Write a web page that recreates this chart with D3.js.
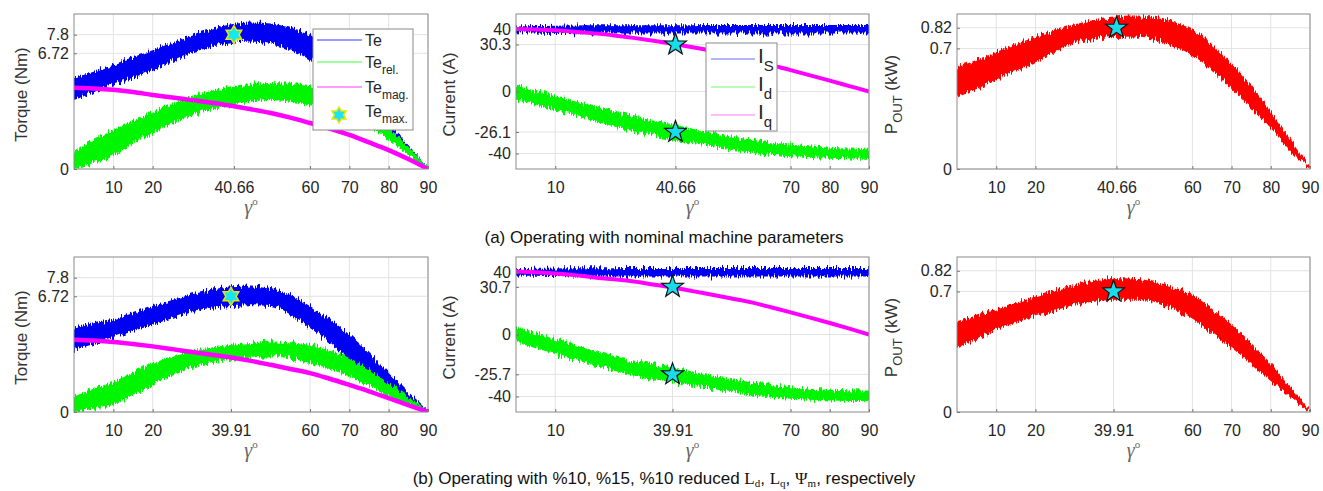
<!DOCTYPE html>
<html><head><meta charset="utf-8">
<script src="https://cdn.jsdelivr.net/npm/d3@7"></script>
<style>body{margin:0;background:#fff} text{font-family:"Liberation Sans",Arial,sans-serif}</style>
</head><body><svg id="c" width="1323" height="491"></svg>
<script>
// ---------------- DATA ----------------
const gamma = [0,5,10,15,20,25,30,35,40,45,50,55,60,65,70,75,80,85,90];

// (a) nominal — torque (Nm)
const teHiA   = [5.3,5.65,6.05,6.5,6.9,7.35,7.8,8.15,8.4,8.5,8.45,8.2,7.8,6.9,5.7,4.3,2.7,1.4,0.1];
const teLoA   = [4.0,4.45,4.9,5.3,5.75,6.25,6.75,7.1,7.3,7.4,7.25,6.9,6.35,5.6,4.5,3.3,2.0,0.9,0.0];
const relHiA  = [1.0,1.7,2.27,2.8,3.33,3.8,4.2,4.55,4.8,4.95,5.0,4.95,4.8,4.5,4.1,3.3,2.4,1.3,0.1];
const relLoA  = [0,0.35,0.8,1.45,2.1,2.65,3.15,3.45,3.7,3.9,4.0,3.9,3.7,3.45,3.1,2.5,1.7,0.8,0];
const magA    = [4.72,4.68,4.6,4.47,4.3,4.15,4.0,3.85,3.67,3.47,3.25,2.98,2.67,2.35,1.98,1.55,1.1,0.58,0];
// (a) currents (A)
const isHiA   = [42.0,42.3,42.5,42.6,42.7,42.7,42.8,42.8,42.8,42.8,42.9,42.9,42.9,42.9,42.9,42.9,42.9,42.9,42.9];
const isLoA   = [38.2,38.0,37.7,37.6,37.5,37.5,37.4,37.4,37.4,37.4,37.4,37.4,37.4,37.4,37.4,37.4,37.4,37.4,37.4];
const idHiA   = [3.9,0.5,-3,-6.3,-9.5,-12.8,-15.9,-18.7,-21.3,-24,-26.6,-29,-31,-32.8,-34.2,-35.3,-36.3,-36.8,-37];
const idLoA   = [-5.2,-8.4,-11.6,-15.5,-19.2,-22.5,-25.6,-28.4,-31,-33.3,-35.3,-37.6,-39.5,-40.8,-41.7,-42.3,-42.8,-43.2,-43.4];
const iqA     = [40.3,40.0,39.5,38.6,37.5,36.2,34.6,32.8,30.8,28.6,26.2,23.4,20.5,17.0,13.8,10.4,7.0,3.5,0];
// (a) output power (kW)
const pHiA    = [0.59,0.635,0.68,0.725,0.766,0.805,0.84,0.865,0.88,0.885,0.88,0.855,0.81,0.72,0.61,0.48,0.336,0.17,0.01];
const pLoA    = [0.42,0.47,0.52,0.57,0.62,0.68,0.73,0.755,0.766,0.77,0.756,0.715,0.66,0.575,0.47,0.355,0.238,0.10,0];

// (b) reduced parameters — torque (Nm)
const teHiB   = [4.9,5.15,5.37,5.75,6.15,6.5,6.83,7.1,7.3,7.35,7.2,6.8,6.15,5.4,4.5,3.45,2.26,1.1,0.08];
const teLoB   = [3.6,3.95,4.3,4.7,5.07,5.45,5.85,6.05,6.15,6.2,6.15,5.6,4.88,4.0,3.03,2.05,1.09,0.4,0];
const relHiB  = [0.9,1.35,1.77,2.3,2.84,3.2,3.52,3.75,3.9,4.0,4.1,4.05,3.9,3.55,3.13,2.45,1.67,0.85,0.05];
const relLoB  = [0,0.2,0.4,1.0,1.57,2.1,2.55,2.85,3.03,3.15,3.23,3.1,2.84,2.5,2.06,1.5,0.9,0.4,0];
const magB    = [4.2,4.15,4.07,3.95,3.81,3.65,3.48,3.33,3.17,2.97,2.74,2.5,2.26,1.93,1.57,1.2,0.8,0.4,0];
// (b) currents (A)
const isHiB   = [42.2,42.4,42.6,42.7,42.8,42.8,42.9,42.9,42.9,42.9,42.9,42.9,42.9,42.9,42.9,42.9,42.9,42.9,42.9];
const isLoB   = [38.1,37.9,37.7,37.5,37.5,37.4,37.4,37.4,37.4,37.4,37.4,37.4,37.4,37.4,37.4,37.4,37.4,37.4,37.4];
const idHiB   = [4.6,0.8,-2.9,-6.7,-10.4,-13.8,-16.8,-19.2,-21.1,-23.8,-26.5,-28.8,-30.7,-32.5,-34,-35,-35.7,-36,-36.1];
const idLoB   = [-5,-8.8,-12.5,-16.3,-20,-23.4,-26.5,-28.8,-30.7,-33,-35,-37.3,-39.4,-40.6,-41.5,-42.1,-42.6,-42.9,-43];
const iqB     = [40.6,40.2,39.4,38.3,36.8,35.6,34.2,32.3,30.3,28,25.6,23.2,20.7,17.6,14.3,10.9,7.4,3.8,0];
// (b) output power (kW)
const pHiB    = [0.527,0.56,0.594,0.633,0.671,0.705,0.739,0.762,0.778,0.775,0.758,0.727,0.681,0.6,0.508,0.395,0.276,0.15,0.01];
const pLoB    = [0.373,0.426,0.479,0.518,0.556,0.59,0.623,0.64,0.652,0.652,0.642,0.598,0.537,0.455,0.373,0.28,0.18,0.09,0];

// maximum points
const maxA = {gamma:40.66, te:7.8, iq:30.3, id:-26.1, p:0.82};
const maxB = {gamma:39.91, te:6.72, iq:30.7, id:-25.7, p:0.7};

// tick labels
const xTicksTorqueA = [10,20,40.66,60,70,80,90];
const xTicksCurA    = [10,40.66,70,80,90];
const xTicksTorqueB = [10,20,39.91,60,70,80,90];
const xTicksCurB    = [10,39.91,70,80,90];
const yTicksTorque  = [0,6.72,7.8];
const yTicksCurA    = [-40,-26.1,0,30.3,40];
const yTicksCurB    = [-40,-25.7,0,30.7,40];
const yTicksPow     = [0,0.7,0.82];

const legendTorque = [{name:"Te",sub:"",color:"#3a3aff"},{name:"Te",sub:"rel.",color:"#3cff3c"},{name:"Te",sub:"mag.",color:"#ff3cff"},{name:"Te",sub:"max.",star:true}];
const legendCur = [{name:"I",sub:"S",color:"#6a6aff"},{name:"I",sub:"d",color:"#6aff6a"},{name:"I",sub:"q",color:"#ff7aff"}];

// ---------------- DRAW ----------------
const svg = d3.select("#c");
const defs = svg.append("defs");
const filt = defs.append("filter").attr("id","noisy").attr("filterUnits","userSpaceOnUse")
  .attr("x",0).attr("y",0).attr("width",1323).attr("height",491);
filt.append("feTurbulence").attr("type","fractalNoise").attr("baseFrequency","0.7 0.04").attr("numOctaves",2).attr("seed",3).attr("result","n0");
filt.append("feColorMatrix").attr("in","n0").attr("type","matrix")
  .attr("values","0 0 0 0 0.5  0 1.6 0 0 -0.3  0 0 0 0 0  0 0 0 0 1").attr("result","n");
filt.append("feDisplacementMap").attr("in","SourceGraphic").attr("in2","n").attr("scale",7)
  .attr("xChannelSelector","R").attr("yChannelSelector","G");

function starPath(cx, cy, R, r, n){
  const pts=[];
  for(let i=0;i<2*n;i++){
    const a=-Math.PI/2+i*Math.PI/n, rr=i%2===0?R:r;
    pts.push([cx+rr*Math.cos(a), cy+rr*Math.sin(a)]);
  }
  return "M"+pts.map(p=>p.join(",")).join("L")+"Z";
}

let clipId=0;
function panel(o){
  const g = svg.append("g");
  const x = d3.scaleLinear().domain([0,90]).range([o.left,o.right]);
  const y = d3.scaleLinear().domain(o.yDomain).range([o.bottom,o.top]);
  g.selectAll(".gx").data(o.xTicks).join("line").attr("x1",d=>x(d)).attr("x2",d=>x(d))
    .attr("y1",o.top).attr("y2",o.bottom).attr("stroke","#e3e3e3").attr("stroke-width",1);
  g.selectAll(".gy").data(o.yTicks).join("line").attr("y1",d=>y(d)).attr("y2",d=>y(d))
    .attr("x1",o.left).attr("x2",o.right).attr("stroke","#e3e3e3").attr("stroke-width",1);
  const id="clip"+(clipId++);
  defs.append("clipPath").attr("id",id).append("rect").attr("x",o.left).attr("y",o.top)
    .attr("width",o.right-o.left).attr("height",o.bottom-o.top);
  const dg = g.append("g").attr("clip-path",`url(#${id})`);
  o.bands.forEach(b=>{
    const area = d3.area().x((d,i)=>x(gamma[i])).y0((d,i)=>y(b.lo[i])).y1((d,i)=>y(b.hi[i])).curve(d3.curveMonotoneX);
    dg.append("g").attr("filter","url(#noisy)").append("path").attr("d",area(gamma)).attr("fill",b.color);
  });
  (o.lines||[]).forEach(l=>{
    const line = d3.line().x((d,i)=>x(gamma[i])).y((d,i)=>y(l.v[i])).curve(d3.curveMonotoneX);
    dg.append("path").attr("d",line(gamma)).attr("fill","none").attr("stroke",l.color).attr("stroke-width",l.w);
  });
  g.append("rect").attr("x",o.left).attr("y",o.top).attr("width",o.right-o.left).attr("height",o.bottom-o.top)
    .attr("fill","none").attr("stroke","#8a8a8a").attr("stroke-width",1);
  const ax = g.append("g").attr("transform",`translate(0,${o.bottom})`)
    .call(d3.axisBottom(x).tickValues(o.xTicks).tickFormat(d=>String(d)).tickSizeInner(-3).tickSizeOuter(0).tickPadding(9));
  ax.select(".domain").remove();
  ax.selectAll("line").attr("stroke","#777");
  ax.selectAll("text").attr("font-size",16).attr("fill","#262626").attr("font-family","Liberation Sans, Arial").attr("dy","0.95em");
  const ay = g.append("g").attr("transform",`translate(${o.left},0)`)
    .call(d3.axisLeft(y).tickValues(o.yTicks).tickFormat(d=>String(d)).tickSizeInner(-3).tickSizeOuter(0).tickPadding(5));
  ay.select(".domain").remove();
  ay.selectAll("line").attr("stroke","#777");
  ay.selectAll("text").attr("font-size",16).attr("fill","#262626").attr("font-family","Liberation Sans, Arial");
  const yl = g.append("text").attr("transform",`translate(${o.left-o.ylOff},${(o.top+o.bottom)/2+3}) rotate(-90)`)
    .attr("text-anchor","middle").attr("font-size",17).attr("fill","#333");
  o.ylabel.forEach(p=>{ const t=yl.append("tspan").text(p.t); if(p.sub) t.attr("font-size",13).attr("dy",5); else if(p.after) t.attr("dy",-5); });
  const xl = g.append("text").attr("x",(o.left+o.right)/2).attr("y",o.bottom+45).attr("text-anchor","middle")
    .attr("fill","#666");
  xl.append("tspan").text("γ").attr("font-family","Liberation Serif, serif").attr("font-style","italic").attr("font-size",20);
  xl.append("tspan").text("o").attr("font-family","Liberation Serif, serif").attr("font-size",11).attr("dy",-9);
  (o.stars||[]).forEach(s=>{
    const cx=x(s.x), cy=y(s.y);
    if(s.hex) g.append("path").attr("d",starPath(cx,cy,9,5.2,6)).attr("fill","#19e6f0").attr("stroke","#e6e600").attr("stroke-width",1.5);
    else g.append("path").attr("d",starPath(cx,cy,11.5,4.6,5)).attr("fill","#19dcea").attr("stroke","#111").attr("stroke-width",1.2);
  });
  return {x,y,g};
}

const rows=[{top:14,bottom:169},{top:257,bottom:412}];
const cols=[{left:74,right:428},{left:516,right:869},{left:957,right:1310}];
const sets=[
  {teHi:teHiA,teLo:teLoA,relHi:relHiA,relLo:relLoA,mag:magA,isHi:isHiA,isLo:isLoA,idHi:idHiA,idLo:idLoA,iq:iqA,pHi:pHiA,pLo:pLoA,mx:maxA,xt:xTicksTorqueA,xc:xTicksCurA,yc:yTicksCurA},
  {teHi:teHiB,teLo:teLoB,relHi:relHiB,relLo:relLoB,mag:magB,isHi:isHiB,isLo:isLoB,idHi:idHiB,idLo:idLoB,iq:iqB,pHi:pHiB,pLo:pLoB,mx:maxB,xt:xTicksTorqueB,xc:xTicksCurB,yc:yTicksCurB}
];
sets.forEach((s,r)=>{
  const R=rows[r];
  panel({left:cols[0].left,right:cols[0].right,top:R.top,bottom:R.bottom,yDomain:[0,9],
    xTicks:s.xt,yTicks:yTicksTorque,ylOff:47,ylabel:[{t:"Torque (Nm)"}],
    bands:[{lo:s.teLo,hi:s.teHi,color:"#0000f5"},{lo:s.relLo,hi:s.relHi,color:"#00f500"}],
    lines:[{v:s.mag,color:"#ff00ff",w:4.5}],
    stars:[{x:s.mx.gamma,y:s.mx.te,hex:true}]});
  panel({left:cols[1].left,right:cols[1].right,top:R.top,bottom:R.bottom,yDomain:[-50,50],
    xTicks:s.xc,yTicks:s.yc,ylOff:61,ylabel:[{t:"Current (A)"}],
    bands:[{lo:s.idLo,hi:s.idHi,color:"#00f500"},{lo:s.isLo,hi:s.isHi,color:"#0000f5"}],
    lines:[{v:s.iq,color:"#ff00ff",w:4}],
    stars:[{x:s.mx.gamma,y:s.mx.iq},{x:s.mx.gamma,y:s.mx.id}]});
  panel({left:cols[2].left,right:cols[2].right,top:R.top,bottom:R.bottom,yDomain:[0,0.9],
    xTicks:s.xt,yTicks:yTicksPow,ylOff:60,ylabel:[{t:"P"},{t:"OUT",sub:true},{t:" (kW)",after:true}],
    bands:[{lo:s.pLo,hi:s.pHi,color:"#ff0000"}],
    stars:[{x:s.mx.gamma,y:s.mx.p}]});
});

// legend: torque (top-left)
{
  const lg=svg.append("g");
  lg.append("rect").attr("x",313).attr("y",29).attr("width",100).attr("height",101).attr("fill","#fff").attr("stroke","#8a8a8a");
  const ys=[40,62,87,111];
  legendTorque.forEach((e,i)=>{
    const yy=ys[i];
    if(e.star) lg.append("path").attr("d",starPath(339,yy+4,8,4.6,6)).attr("fill","#19e6f0").attr("stroke","#e6e600").attr("stroke-width",1.5);
    else lg.append("line").attr("x1",317).attr("x2",362).attr("y1",yy).attr("y2",yy).attr("stroke",e.color).attr("stroke-width",1.2);
    const t=lg.append("text").attr("x",365).attr("y",yy+6).attr("font-size",16).attr("fill","#262626");
    t.append("tspan").text(e.name);
    if(e.sub) t.append("tspan").text(e.sub).attr("font-size",12).attr("dy",6);
  });
}
// legend: currents (top-middle)
{
  const lg=svg.append("g");
  lg.append("rect").attr("x",706).attr("y",43).attr("width",71).attr("height",88).attr("fill","#fff").attr("stroke","#8a8a8a");
  const ys=[59,87,115];
  legendCur.forEach((e,i)=>{
    const yy=ys[i];
    lg.append("line").attr("x1",711).attr("x2",755).attr("y1",yy).attr("y2",yy).attr("stroke",e.color).attr("stroke-width",1.2);
    const t=lg.append("text").attr("x",758).attr("y",yy+4).attr("font-size",21).attr("fill","#262626");
    t.append("tspan").text(e.name);
    t.append("tspan").text(e.sub).attr("font-size",15).attr("dy",8);
  });
}

// captions
svg.append("text").attr("x",664).attr("y",243).attr("text-anchor","middle").attr("font-size",17).attr("fill","#111")
  .text("(a) Operating with nominal machine parameters");
{
  const t=svg.append("text").attr("x",664).attr("y",484).attr("text-anchor","middle").attr("font-size",17).attr("fill","#111");
  const serif="Liberation Serif, serif";
  t.append("tspan").text("(b) Operating with %10, %15, %10 reduced ");
  t.append("tspan").text("L").attr("font-family",serif);
  t.append("tspan").text("d").attr("font-family",serif).attr("font-size",11).attr("dy",2.5);
  t.append("tspan").text(", ").attr("dy",-2.5);
  t.append("tspan").text("L").attr("font-family",serif);
  t.append("tspan").text("q").attr("font-family",serif).attr("font-size",11).attr("dy",2.5);
  t.append("tspan").text(", ").attr("dy",-2.5);
  t.append("tspan").text("Ψ").attr("font-family",serif);
  t.append("tspan").text("m").attr("font-family",serif).attr("font-size",11).attr("dy",2.5);
  t.append("tspan").text(", respectively").attr("dy",-2.5);
}
</script></body></html>
